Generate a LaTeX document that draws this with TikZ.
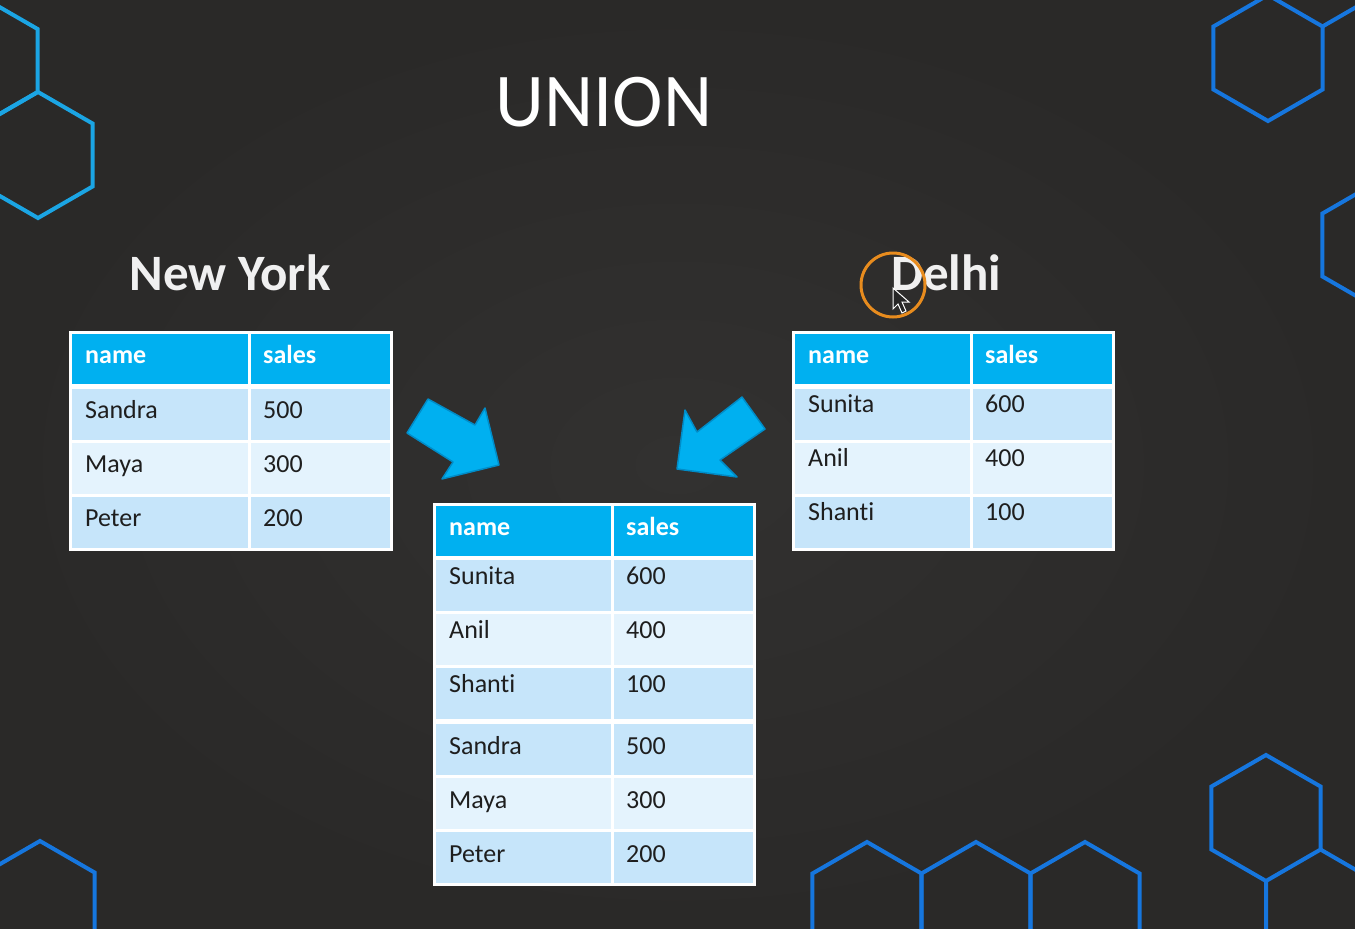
\documentclass[tikz,border=0pt]{standalone}
\usepackage{fontspec}
\setmainfont{Carlito}[Ligatures=NoCommon]
\definecolor{slide bg}{RGB}{42,41,40}
\definecolor{slide glow}{RGB}{50,49,48}
\definecolor{head blue}{RGB}{0,176,240}
\definecolor{arrow edge}{RGB}{0,140,200}
\definecolor{row dark}{RGB}{198,229,250}
\definecolor{row light}{RGB}{228,243,253}
\definecolor{cell ink}{RGB}{30,30,30}
\definecolor{hex cyan}{RGB}{27,165,228}
\definecolor{hex blue}{RGB}{22,118,222}
\definecolor{pointer ring}{RGB}{232,140,30}
\tikzset{hex line/.style={draw=hex blue, line width=4pt, line join=miter}}
\tikzset{cell/.style={draw=white, line width=3pt}}
\tikzset{head text/.style={font=\fontsize{26}{26}\selectfont\bfseries, text=white, anchor=base west, inner sep=0pt}}
\tikzset{cell text/.style={font=\fontsize{26}{26}\selectfont, text=cell ink, anchor=base west, inner sep=0pt}}
\tikzset{city text/.style={font=\fontsize{51}{51}\selectfont\bfseries, text=white!94!black, inner sep=0pt}}
\tikzset{block arrow/.style={fill=head blue, draw=arrow edge, line width=1.5pt, line join=round}}

\begin{document}
\begin{tikzpicture}[x=1pt, y=-1pt]
    \useasboundingbox (0,0) rectangle (1355,929);
    \clip (0,0) rectangle (1355,929);
    \shade[inner color=slide glow, outer color=slide bg] (0,0) rectangle (1355,929);
    \def\hexcell[#1,#2]{
        \draw[hex line] (#1,#2) +(90:63) -- +(30:63) -- +(-30:63) -- +(-90:63) -- +(-150:63) -- +(150:63) -- cycle;
    }
    \def\salestable[#1,#2,#3,#4,#5]#6{
        \filldraw[cell, fill=head blue] (#2,#5) rectangle (#3,#5+53);
        \filldraw[cell, fill=head blue] (#3,#5) rectangle (#4,#5+53);
        \node[head text] (#1-head-n) at (#2+15,#5+31) {name};
        \node[head text] (#1-head-s) at (#3+14,#5+31) {sales};
        \foreach \top/\lift/\nm/\val/\rowfill [count=\i] in {#6} {
            \filldraw[cell, fill=\rowfill] (#2,\top) rectangle (#3,\top+54);
            \filldraw[cell, fill=\rowfill] (#3,\top) rectangle (#4,\top+54);
            \node[cell text] (#1-\i-n) at (#2+15,\top+\lift) {\nm};
            \node[cell text] (#1-\i-s) at (#3+14,\top+\lift) {\val};
        }
    }
    % hexagon frame
    \begin{scope}[hex line/.append style={draw=hex cyan}]
        \hexcell[-17,60.5]
        \hexcell[38,155]
    \end{scope}
    \hexcell[1268,58]
    \draw[hex line] (1322.5,26.5) -- (1377,-5);
    \hexcell[1377,245]
    \hexcell[1266,818]
    \draw[hex line] (1266,881) -- (1266,940) (1320.5,849.5) -- (1375,881);
    \hexcell[40,904]
    \hexcell[867,905]
    \hexcell[976,905]
    \hexcell[1085,905]
    % titles
    \node[font=\fontsize{76}{76}\selectfont, text=white, anchor=base, inner sep=0pt] (union) at (604,126) {UNION};
    \node[city text, anchor=base] (newyork) at (230,290) {New York};
    \node[city text, anchor=base west] (delhi) at (891,290) {Delhi};
    % tables
    \salestable[ny,70,249,391,332]{387/31.5/Sandra/500/row dark, 441/31.5/Maya/300/row light, 495/31.5/Peter/200/row dark}
    \salestable[dl,793,971,1113,332]{387/25.5/Sunita/600/row dark, 441/25.5/Anil/400/row light, 495/25.5/Shanti/100/row dark}
    \salestable[un,434,612,754,504]{558/26/Sunita/600/row dark, 612/26/Anil/400/row light, 666/26/Shanti/100/row dark, 722/32.5/Sandra/500/row dark, 776/32.5/Maya/300/row light, 830/32.5/Peter/200/row dark}
    % arrows
    \filldraw[block arrow] (428,399) -- (475,425) -- (485,408) -- (499,465) -- (442,479) -- (453,462) -- (407,433) -- cycle;
    \filldraw[block arrow] (742,397) -- (697,432) -- (685,410) -- (677,469) -- (737,477) -- (720,460) -- (765,429) -- cycle;
    % pointer
    \draw[draw=pointer ring, line width=3pt] (893,285) circle[radius=32];
    \filldraw[fill=black!85, draw=white!60, line width=1pt] (893,288) -- (893,309) -- (898,304) -- (902,313) -- (906,311) -- (902,302) -- (909,302) -- cycle;
\end{tikzpicture}
\end{document}
